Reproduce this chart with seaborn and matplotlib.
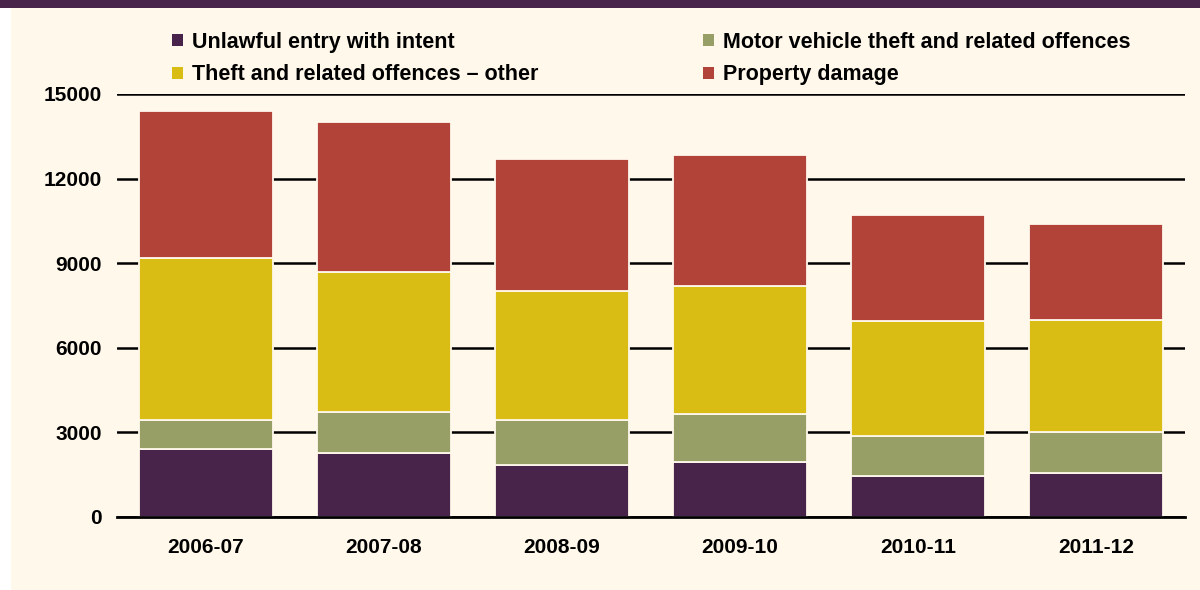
import pandas as pd
import matplotlib
matplotlib.use("Agg")
import matplotlib.pyplot as plt
from matplotlib.patches import Patch, Rectangle
import seaborn as sns

# Data
years = ["2006-07", "2007-08", "2008-09", "2009-10", "2010-11", "2011-12"]
unlawful_entry = [2410, 2260, 1840, 1950, 1450, 1550]
motor_vehicle = [1030, 1470, 1600, 1700, 1440, 1460]
theft_other = [5760, 4970, 4570, 4540, 4050, 3980]
property_damage = [5200, 5300, 4690, 4650, 3760, 3390]

series_names = ["Unlawful entry with intent", "Motor vehicle theft and related offences",
                "Theft and related offences \u2013 other", "Property damage"]
series_values = [unlawful_entry, motor_vehicle, theft_other, property_damage]
colors = ["#48234A", "#989F66", "#D9BC14", "#B24339"]
yticks = [0, 3000, 6000, 9000, 12000, 15000]

cream = "#FFF8EB"

sns.set_style("white")
plt.rcParams["font.family"] = ["Liberation Sans", "DejaVu Sans"]
plt.rcParams["font.weight"] = "bold"
plt.rcParams["text.color"] = "black"
plt.rcParams["xtick.color"] = "black"
plt.rcParams["ytick.color"] = "black"

fig = plt.figure(figsize=(12, 5.9), dpi=100)
fig.patch.set_facecolor("white")
# cream panel and purple title band
fig.patches.append(Rectangle((11 / 1200, -0.01), 1, 1.01 - 8 / 590, transform=fig.transFigure,
                             facecolor=cream, edgecolor="none", zorder=-2))
fig.patches.append(Rectangle((0, 1 - 8 / 590), 1, 8 / 590, transform=fig.transFigure,
                             facecolor="#48234A", edgecolor="none", zorder=-2))

ax = fig.add_axes([117 / 1200, 1 - 517 / 590, (1185 - 117) / 1200, (517 - 94) / 590])
ax.set_facecolor(cream)

bottom = [0] * len(years)
for name, vals, col in zip(series_names, series_values, colors):
    df = pd.DataFrame({"year": years, "value": vals})
    sns.barplot(data=df, x="year", y="value", color=col, bottom=bottom, width=0.75,
                edgecolor=cream, linewidth=1.3, saturation=1, errorbar=None, ax=ax, zorder=3)
    bottom = [b + v for b, v in zip(bottom, vals)]

ax.set_xlim(-0.5, len(years) - 0.5)
ax.set_ylim(0, 15000)
ax.set_yticks(yticks)
ax.set_yticklabels([str(t) for t in yticks], fontsize=15, fontweight="bold", color="black")
ax.tick_params(axis="y", length=0, pad=11)
ax.set_axisbelow(True)
ax.yaxis.grid(True, color="black", linewidth=1.8)
ax.set_xlabel("")
ax.set_ylabel("")

ax.set_xticks(range(len(years)))
ax.set_xticklabels(years, fontsize=15, fontweight="bold", color="black")
ax.set_xticks([i - 0.5 for i in range(len(years) + 1)], minor=True)
ax.tick_params(axis="x", which="major", length=0, pad=15)
ax.tick_params(axis="x", which="minor", length=8, width=2, direction="out", color="black")

for s in ["top", "right", "left"]:
    ax.spines[s].set_visible(False)
ax.spines["bottom"].set_color("black")
ax.spines["bottom"].set_linewidth(2)
ax.spines["bottom"].set_zorder(4)

handles = [Patch(facecolor=c, edgecolor="none") for c in colors]
leg_kw = dict(frameon=False, fontsize=15.5, handlelength=0.5, handleheight=0.5,
              handletextpad=0.45, labelspacing=0.53, borderpad=0, borderaxespad=0,
              loc="upper left", bbox_transform=fig.transFigure, labelcolor="black")
leg1 = ax.legend([handles[0], handles[2]], [series_names[0], series_names[2]],
                 bbox_to_anchor=(172 / 1200, 1 - 32 / 590), **leg_kw)
ax.add_artist(leg1)
ax.legend([handles[1], handles[3]], [series_names[1], series_names[3]],
          bbox_to_anchor=(703 / 1200, 1 - 32 / 590), **leg_kw)

fig.savefig("out.png", dpi=100, facecolor=fig.get_facecolor())
